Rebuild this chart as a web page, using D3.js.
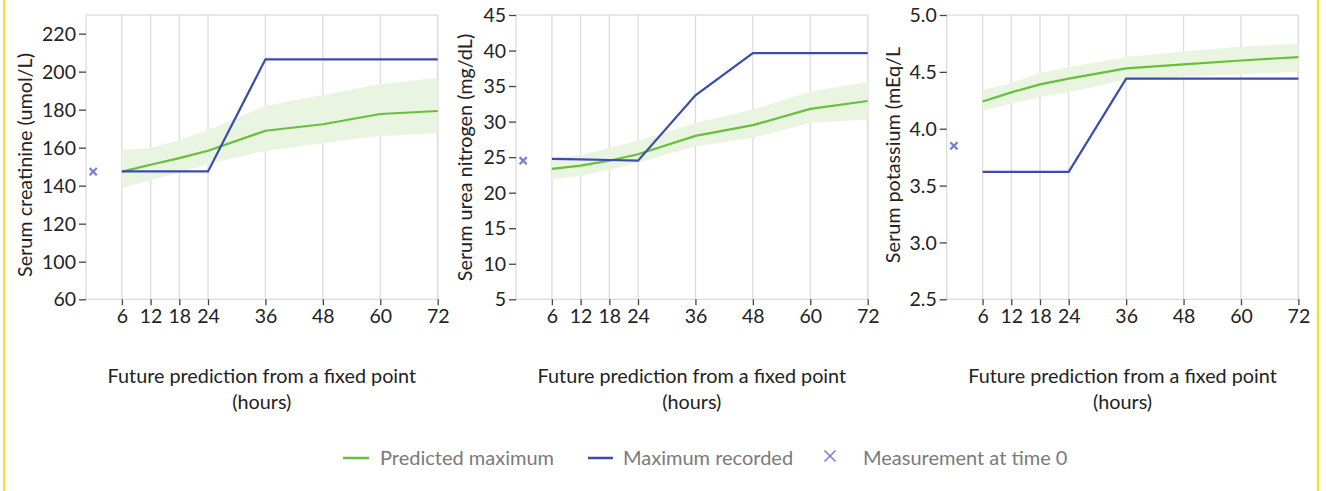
<!DOCTYPE html>
<html>
<head>
<meta charset="utf-8">
<script src="https://cdn.jsdelivr.net/npm/d3@7"></script>
<style>
    body { margin: 0; background: #fff; }
    text { font-family: Lato, "Open Sans", sans-serif; }
    .frame { fill: none; stroke: #dcdcdc; stroke-width: 1.3; }
    .grid { stroke: #dcdcdc; stroke-width: 1.3; }
    .tick line { stroke: #444; stroke-width: 1.3; }
    .tick text { font-size: 19.5px; fill: #222; }
    .band { fill: #e9f5e1; }
    .predLine { fill: none; stroke: #66c03a; stroke-width: 2.2; }
    .recLine { fill: none; stroke: #3b4cad; stroke-width: 2.2; }
    .marker { stroke: #7581d3; stroke-width: 2.2; }
    .axisTitle { font-size: 19.8px; fill: #222; }
    .legendText { font-size: 20px; fill: #7a7a7a; }
</style>
</head>
<body>
<script>
(function(){

    //pseudo-global variables
    var hours = [6, 12, 18, 24, 36, 48, 60, 72]; //x tick positions
    var xTitle = ["Future prediction from a fixed point", "(hours)"];

    //serum creatinine
    var creatTitle = "Serum creatinine (umol/L)";
    var creatTicks = [60, 100, 120, 140, 160, 180, 200, 220];
    var creatPred  = [147.4, 151, 154.5, 158.4, 168.9, 172.3, 177.7, 179.3];
    var creatLow   = [138.6, 143, 146.7, 151.4, 158.4, 162.3, 166.2, 167.6];
    var creatHigh  = [158.9, 159.8, 164, 169.3, 182, 187.7, 193.5, 196.8];
    var creatRec   = [147.5, 147.5, 147.5, 147.5, 206.5, 206.5, 206.5, 206.5];
    var creatTime0 = 147.4;

    //serum urea nitrogen
    var bunTitle = "Serum urea nitrogen (mg/dL)";
    var bunTicks = [5, 10, 15, 20, 25, 30, 35, 40, 45];
    var bunPred  = [23.35, 23.8, 24.5, 25.4, 28.0, 29.5, 31.8, 32.9];
    var bunLow   = [21.9, 22.4, 23.2, 24.2, 26.5, 27.7, 29.8, 30.3];
    var bunHigh  = [24.9, 25.3, 26.3, 27.3, 29.8, 31.7, 34.2, 35.6];
    var bunRec   = [24.76, 24.7, 24.6, 24.5, 33.7, 39.65, 39.65, 39.65];
    var bunTime0 = 24.5;

    //serum potassium
    var kTitle = "Serum potassium (mEq/L";
    var kTicks = [2.5, 3.0, 3.5, 4.0, 4.5, 5.0];
    var kPred  = [4.24, 4.32, 4.39, 4.44, 4.53, 4.565, 4.60, 4.63];
    var kLow   = [4.16, 4.22, 4.28, 4.32, 4.43, 4.46, 4.48, 4.50];
    var kHigh  = [4.34, 4.40, 4.49, 4.54, 4.63, 4.68, 4.72, 4.75];
    var kRec   = [3.62, 3.62, 3.62, 3.62, 4.44, 4.44, 4.44, 4.44];
    var kTime0 = 3.85;

    //legend labels
    var legendLabels = ["Predicted maximum", "Maximum recorded", "Measurement at time 0"];

    window.onload = setChart();

function setChart(){

    //frame dimensions
    var width = 1326,
        height = 491;

    var svg = d3.select("body")
        .append("svg")
        .attr("width", width)
        .attr("height", height);

    //yellow side borders
    svg.append("rect").attr("x", 3).attr("y", 0).attr("width", 2.5).attr("height", height).attr("fill", "#f7df2f");
    svg.append("rect").attr("x", 1316.8).attr("y", 0).attr("width", 2.5).attr("height", height).attr("fill", "#f7df2f");

    var top = 15, bottom = 299.3, plotW = 351.7;

    //creatinine axis skips 80, so the scale is piecewise
    drawPanel(svg, {
        left: 86, title: creatTitle, titleX: 25, titleY: 165,
        y: d3.scaleLinear().domain([60, 100, 229.8]).range([bottom, 261.7, top]),
        ticks: creatTicks, fmt: d3.format("d"),
        pred: creatPred, low: creatLow, high: creatHigh, rec: creatRec, t0: creatTime0
    }, top, bottom, plotW);

    drawPanel(svg, {
        left: 516, title: bunTitle, titleX: 465, titleY: 157.5,
        y: d3.scaleLinear().domain([5, 45]).range([bottom, top]),
        ticks: bunTicks, fmt: d3.format("d"),
        pred: bunPred, low: bunLow, high: bunHigh, rec: bunRec, t0: bunTime0
    }, top, bottom, plotW);

    drawPanel(svg, {
        left: 946.7, title: kTitle, titleX: 893, titleY: 155,
        y: d3.scaleLinear().domain([2.5, 5.0]).range([bottom, top]),
        ticks: kTicks, fmt: d3.format(".1f"),
        pred: kPred, low: kLow, high: kHigh, rec: kRec, t0: kTime0
    }, top, bottom, plotW);

    setLegend(svg);
};

function drawPanel(svg, p, top, bottom, plotW){
    var x = d3.scaleLinear()
        .domain([-1.5, 72])
        .range([p.left, p.left + plotW]);
    var y = p.y;

    var g = svg.append("g");

    //vertical gridlines
    g.selectAll(".grid")
        .data(hours)
        .enter()
        .append("line")
        .attr("class", "grid")
        .attr("x1", function(d){ return x(d); })
        .attr("x2", function(d){ return x(d); })
        .attr("y1", top)
        .attr("y2", bottom);

    //plot frame
    g.append("rect")
        .attr("class", "frame")
        .attr("x", p.left)
        .attr("y", top)
        .attr("width", plotW)
        .attr("height", bottom - top);

    //confidence band
    var area = d3.area()
        .x(function(d, i){ return x(hours[i]); })
        .y0(function(d, i){ return y(p.low[i]); })
        .y1(function(d, i){ return y(p.high[i]); });
    g.append("path")
        .datum(p.low)
        .attr("class", "band")
        .attr("d", area);

    var line = d3.line()
        .x(function(d, i){ return x(hours[i]); })
        .y(function(d){ return y(d); });

    g.append("path").datum(p.pred).attr("class", "predLine").attr("d", line);
    g.append("path").datum(p.rec).attr("class", "recLine").attr("d", line);

    //measurement at time 0
    drawCross(g, x(0), y(p.t0), 3.6).attr("class", "marker");

    //axes
    var xAxis = d3.axisBottom(x)
        .tickValues(hours)
        .tickSize(6)
        .tickPadding(4);
    var xg = g.append("g")
        .attr("transform", "translate(0," + bottom + ")")
        .call(xAxis);
    xg.select(".domain").remove();

    var yAxis = d3.axisLeft(y)
        .tickValues(p.ticks)
        .tickFormat(p.fmt)
        .tickSize(7)
        .tickPadding(3);
    var yg = g.append("g")
        .attr("transform", "translate(" + p.left + ",0)")
        .call(yAxis);
    yg.select(".domain").remove();
    yg.selectAll(".tick text").attr("dy", "0.34em");

    //y title
    g.append("text")
        .attr("class", "axisTitle")
        .attr("text-anchor", "middle")
        .attr("transform", "translate(" + (p.titleX + 7) + "," + p.titleY + ") rotate(-90)")
        .text(p.title);

    //x title
    g.selectAll(".xTitle")
        .data(xTitle)
        .enter()
        .append("text")
        .attr("class", "axisTitle")
        .attr("text-anchor", "middle")
        .attr("x", p.left + plotW / 2)
        .attr("y", function(d, i){ return 383 + i * 26; })
        .text(function(d){ return d; });
};

function drawCross(g, cx, cy, r){
    var c = g.append("g");
    c.append("line").attr("x1", cx - r).attr("y1", cy - r).attr("x2", cx + r).attr("y2", cy + r);
    c.append("line").attr("x1", cx - r).attr("y1", cy + r).attr("x2", cx + r).attr("y2", cy - r);
    return c;
};

function setLegend(svg){
    var ly = 458;
    var items = [
        {sx: 343, tx: 380},
        {sx: 588, tx: 623},
        {sx: 830, tx: 863}
    ];
    var lg = svg.append("g");

    lg.append("line").attr("x1", items[0].sx).attr("x2", items[0].sx + 26)
        .attr("y1", ly).attr("y2", ly).attr("stroke", "#66c03a").attr("stroke-width", 2.5);
    lg.append("line").attr("x1", items[1].sx).attr("x2", items[1].sx + 25)
        .attr("y1", ly).attr("y2", ly).attr("stroke", "#3b4cad").attr("stroke-width", 2.5);
    drawCross(lg, items[2].sx, ly - 2, 5.5)
        .attr("stroke", "#7581d3").attr("stroke-width", 1.6);

    lg.selectAll(".legendText")
        .data(legendLabels)
        .enter()
        .append("text")
        .attr("class", "legendText")
        .attr("x", function(d, i){ return items[i].tx; })
        .attr("y", ly + 7)
        .text(function(d){ return d; });
};

})();
</script>
</body>
</html>
